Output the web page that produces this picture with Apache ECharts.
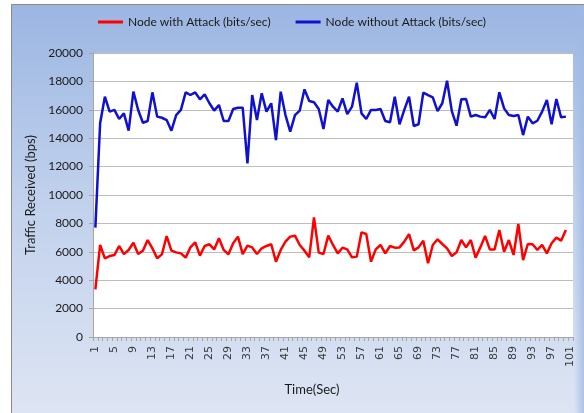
<!DOCTYPE html>
<html>
<head>
<meta charset="utf-8">
<script src="https://cdn.jsdelivr.net/npm/echarts@6/dist/echarts.min.js"></script>
<style>
  html, body { margin: 0; padding: 0; background: #ffffff; }
  #chart { width: 584px; height: 413px; }
</style>
</head>
<body>
<div id="chart"></div>
<script>
// Time axis categories (seconds 1..101)
const timeSec = Array.from({ length: 101 }, (_, i) => String(i + 1));

// Traffic received by the attacked node (bits/sec)
const withAttack = [
  3350, 6480, 5540, 5700, 5770, 6410, 5840, 6130, 6640, 5840,
  6080, 6830, 6240, 5540, 5820, 7110, 6080, 5960, 5890, 5590,
  6310, 6670, 5730, 6410, 6530, 6170, 6950, 6130, 5820, 6600,
  7070, 5840, 6430, 6310, 5845, 6245, 6410, 6530, 5305, 6130,
  6715, 7070, 7135, 6480, 6080, 5610, 8425, 5940, 5845, 7135,
  6480, 5890, 6290, 6170, 5610, 5660, 7370, 7250, 5305, 6170,
  6480, 5890, 6410, 6290, 6310, 6715, 7250, 6100, 6310, 6785,
  5190, 6480, 6880, 6550, 6245, 5705, 5960, 6830, 6310, 6830,
  5590, 6310, 7110, 6170, 6170, 7535, 6010, 6830, 5775, 7960,
  5420, 6550, 6530, 6130, 6480, 5890, 6600, 6995, 6785, 7535
];

// Traffic received by the node without attack (bits/sec)
const withoutAttack = [
  7700, 15050, 16920, 15870, 15990, 15350, 15750, 14530, 17280, 15990,
  15090, 15210, 17230, 15520, 15440, 15280, 14530, 15630, 15990, 17230,
  17040, 17230, 16740, 17090, 16460, 15940, 16340, 15210, 15210, 16060,
  16150, 16150, 12230, 17040, 15280, 17160, 15870, 16460, 13870, 17280,
  15630, 14460, 15630, 15940, 17440, 16620, 16530, 16060, 14650, 16690,
  16220, 15870, 16810, 15700, 16220, 17910, 15750, 15350, 15990, 15990,
  16060, 15210, 15120, 16920, 14980, 15990, 16920, 14860, 14980, 17210,
  17040, 16880, 15910, 16460, 18050, 15910, 14880, 16740, 16760, 15520,
  15630, 15520, 15470, 15990, 15350, 17230, 16100, 15630, 15560, 15630,
  14220, 15520, 15050, 15230, 15870, 16690, 14980, 16760, 15470, 15520
];

const seriesNames = ['Node with Attack (bits/sec)', 'Node without Attack (bits/sec)'];
const yTicks = { min: 0, max: 20000, interval: 2000 };

const chart = echarts.init(document.getElementById('chart'), null, { renderer: 'canvas' });
const uiFont = 'Lato, "Open Sans", sans-serif';

chart.setOption({
  animation: false,
  backgroundColor: '#ffffff',
  graphic: [
    {
      // chart-area frame with its vertical gradient
      type: 'rect',
      z: -100,
      shape: { x: 11.5, y: 4.5, width: 600, height: 420 },
      style: {
        fill: new echarts.graphic.LinearGradient(0, 0, 0, 1, [
          { offset: 0, color: '#9bb6e2' },
          { offset: 0.45, color: '#c0d0ec' },
          { offset: 1, color: '#dfe6f4' }
        ]),
        stroke: '#8a8a8a',
        lineWidth: 1
      }
    },
    {
      // darker band along the right edge
      type: 'rect',
      z: -99,
      shape: { x: 574, y: 5, width: 10, height: 408 },
      style: {
        fill: new echarts.graphic.LinearGradient(0, 0, 1, 0, [
          { offset: 0, color: 'rgba(160,185,228,0)' },
          { offset: 1, color: 'rgba(160,185,228,0.8)' }
        ])
      }
    }
  ],
  legend: {
    top: 11,
    left: 'center',
    icon: 'rect',
    itemWidth: 25,
    itemHeight: 3,
    itemGap: 25,
    textStyle: { fontFamily: uiFont, fontSize: 12, color: '#1a1a1a' },
    data: seriesNames
  },
  grid: {
    left: 93, right: 11, top: 53, bottom: 76,
    show: true, backgroundColor: '#ffffff', borderWidth: 0
  },
  xAxis: {
    type: 'category',
    data: timeSec,
    boundaryGap: true,
    name: 'Time(Sec)',
    nameLocation: 'middle',
    nameGap: 46,
    nameTextStyle: { fontFamily: uiFont, fontSize: 13, color: '#1a1a1a', padding: [0, 42, 0, 0] },
    axisLine: { lineStyle: { color: '#a6a6a6', width: 1 } },
    axisTick: { show: true, interval: 0, length: 4, alignWithLabel: false, lineStyle: { color: '#a6a6a6' } },
    axisLabel: {
      interval: 3, rotate: 90, margin: 9,
      fontFamily: '"DejaVu Sans"', fontSize: 11, color: '#3a3a3a'
    },
    splitLine: { show: false }
  },
  yAxis: {
    type: 'value',
    min: yTicks.min, max: yTicks.max, interval: yTicks.interval,
    name: 'Traffic Received (bps)',
    nameLocation: 'middle',
    nameGap: 47,
    nameTextStyle: { fontFamily: uiFont, fontSize: 13, color: '#1a1a1a' },
    axisLine: { show: true, lineStyle: { color: '#a6a6a6', width: 1 } },
    axisTick: { show: true, length: 4, lineStyle: { color: '#a6a6a6' } },
    axisLabel: {
      margin: 10, fontFamily: uiFont, fontSize: 12, color: '#1a1a1a',
      formatter: (v) => String(v)
    },
    splitLine: { lineStyle: { color: '#bdbdbd', width: 1 } }
  },
  series: [
    {
      name: seriesNames[0], type: 'line', data: withAttack,
      showSymbol: false, symbol: 'none',
      lineStyle: { color: '#ff0000', width: 2.5 },
      itemStyle: { color: '#ff0000' }
    },
    {
      name: seriesNames[1], type: 'line', data: withoutAttack,
      showSymbol: false, symbol: 'none',
      lineStyle: { color: '#1010d0', width: 2.5 },
      itemStyle: { color: '#1010d0' }
    }
  ]
});
</script>
</body>
</html>
